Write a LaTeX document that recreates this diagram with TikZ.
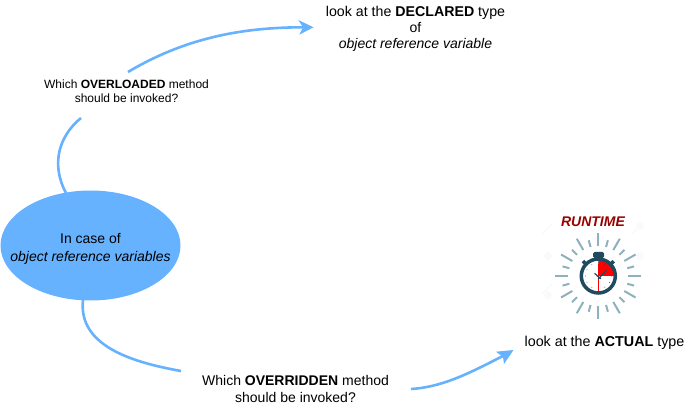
\documentclass[tikz,border=0pt]{standalone}
\usepackage{fontspec}
\setmainfont{Liberation Sans}
\usetikzlibrary{shapes.geometric,calc}
\definecolor{flow}{HTML}{66B2FF}
\definecolor{tickc}{HTML}{8FB0BD}
\definecolor{watch}{HTML}{1F4A60}
\definecolor{rt}{HTML}{990000}
\definecolor{faint}{HTML}{F8FAFB}
\tikzset{
  lbl/.style={align=center,inner sep=0pt,text=black,font=\fontsize{14}{18}\selectfont},
  widelbl/.style={align=center,inner sep=0pt,text=black,font=\fontsize{14}{16}\selectfont},
  actuallbl/.style={align=center,inner sep=0pt,text=black,font=\fontsize{14.3}{16}\selectfont},
  tightlbl/.style={align=center,inner sep=0pt,text=black,font=\fontsize{14}{17}\selectfont},
  smalllbl/.style={align=center,inner sep=0pt,text=black,font=\fontsize{12}{14}\selectfont},
  curve/.style={draw=flow,line width=2.6pt},
  headfill/.style={fill=flow},
  ray/.style={draw=tickc,line width=2pt},
}
\begin{document}
\begin{tikzpicture}[x=1pt,y=-1pt]
\useasboundingbox (0,0) rectangle (694,411);
% faint watermark
\foreach \p in {(548,256),(548,295),(640,226),(640,256)}
  \fill[faint] \p circle (4);
\draw[faint,line width=1.5pt] (542,234) -- (552,224) (542,294) -- (552,284) (632,234) -- (642,224);
% main ellipse
\node[ellipse,fill=flow,minimum width=180pt,minimum height=110pt,inner sep=0pt] (main) at (90.5,245.5) {};
\node[lbl] (mainlabel) at (main.center) [yshift=-3.5pt] {In case of\\\textit{object reference variables}};
% labels
\node[widelbl] (declared) at (415.5,28.5) {{\fontsize{14.2}{16}\selectfont look at the \textbf{DECLARED} type}\\of\\\textit{object reference variable}};
\node[smalllbl] (overloaded) at (126.5,91) {Which \textbf{OVERLOADED} method\\should be invoked?};
\node[tightlbl] (overridden) at (295.5,389) {Which \textbf{OVERRIDDEN} method\\should be invoked?};
\node[actuallbl] (actual) at (604.5,343) {look at the \textbf{ACTUAL} type};
\node[inner sep=0pt,text=rt,font=\fontsize{14}{18}\selectfont\bfseries\itshape] (runtime) at (593,222) {RUNTIME};
% connector ends
\coordinate (a1) at (128,72);
\coordinate (a2) at (304,27.3);
\coordinate (atip) at (313.5,27.3);
\coordinate (b1) at (81,118);
\coordinate (b2) at (66,193);
\coordinate (c1) at (83,300);
\coordinate (c2) at (181,371);
\coordinate (d1) at (411,389);
\coordinate (d2) at (504,355.5);
\coordinate (dtip) at (513.5,350);
\draw[curve] (a1) .. controls (190,35) and (250,27.3) .. (a2);
\draw[curve] (b1) .. controls (60,135) and (50,163) .. (b2);
\draw[curve] (c1) .. controls (78,345) and (130,362) .. (c2);
\draw[curve] (d1) .. controls (445,387) and (475,370) .. (d2);
\fill[headfill] (atip) -- (298.3,20) -- (303,27.3) -- (299.3,34.7) -- cycle;
\fill[headfill] (dtip) -- (496,351.7) -- (503,357) -- (504,364) -- cycle;
% stopwatch rays
\coordinate (w) at (598.3,276);
\foreach \a in {0,30,...,330}
  \draw[ray] ($(w)+(\a:30)$) -- ($(w)+(\a:43)$);
\foreach \a in {15,45,75,105,135,165,195,225,255,285,315,345}
  \draw[ray] ($(w)+(\a:30)$) -- ($(w)+(\a:37)$);
% stopwatch
\fill[watch,rounded corners=1.5pt] (593,252) rectangle (604,258);
\fill[watch] (596.3,256) rectangle (600.3,260);
\draw[watch,line width=2.2pt] ($(w)+(-12,-11)$) -- ($(w)+(-15.5,-14.5)$) ($(w)+(12,-11)$) -- ($(w)+(15.5,-14.5)$);
\draw[watch,line width=3pt] ($(w)+(-15.5,-12.5)$) -- ($(w)+(-13,-15)$) ($(w)+(15.5,-12.5)$) -- ($(w)+(13,-15)$);
\fill[white] (w) circle (17);
\fill[red] (w) -- ($(w)+(16,0)$) arc[start angle=0,end angle=-90,radius=16] -- cycle;
\draw[watch,line width=3.5pt] (w) circle (17);
\foreach \a in {0,30,...,330}
  \fill[watch] ($(w)+(\a:13)$) circle (.45);
\draw[red,line width=1pt] ($(w)+(0,-12)$) -- ($(w)+(0,15)$);
\draw[watch,line width=1.2pt,line cap=round] ($(w)+(-3.5,-2.5)$) -- ($(w)+(2.3,2.8)$);
\draw[watch,line width=1.2pt,line cap=round] ($(w)+(0,3)$) -- ($(w)+(8,-5.5)$);
\end{tikzpicture}
\end{document}
